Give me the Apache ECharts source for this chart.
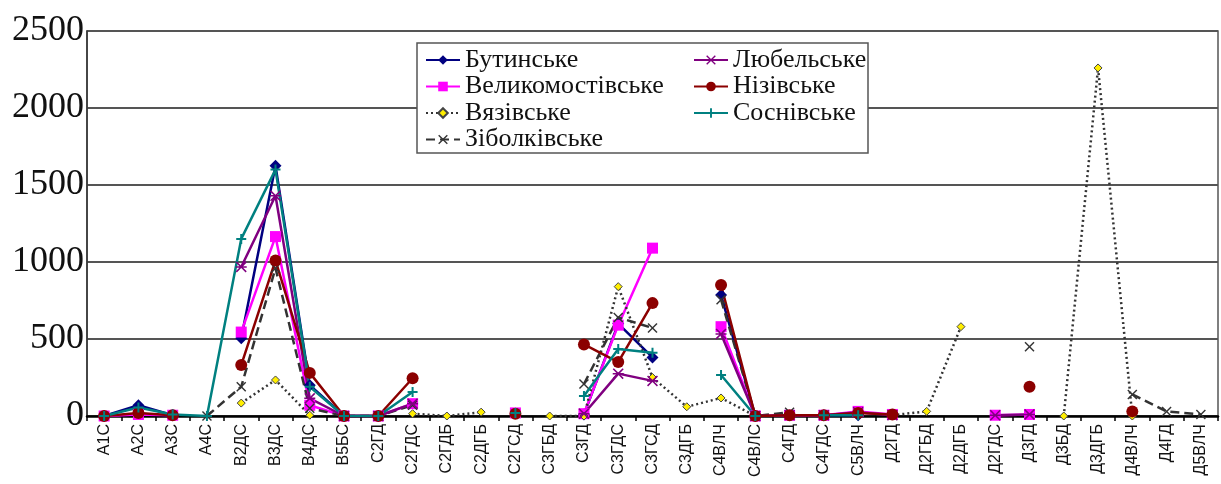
<!DOCTYPE html>
<html>
<head>
<meta charset="utf-8">
<script src="https://cdn.jsdelivr.net/npm/echarts@6/dist/echarts.min.js"></script>
<style>
  html, body { margin: 0; padding: 0; background: #fff; }
  #chart { width: 1221px; height: 484px; }
</style>
</head>
<body>
<div id="chart"></div>
<script>
// категорії по осі X
const categories = ['А1С', 'А2С', 'А3С', 'А4С', 'В2ДС', 'В3ДС', 'В4ДС', 'В5БС', 'С2ГД', 'С2ГДС',
  'С2ГДБ', 'С2ДГБ', 'С2ГСД', 'С3ГБД', 'С3ГД', 'С3ГДС', 'С3ГСД', 'С3ДГБ', 'С4ВЛЧ', 'С4ВЛС',
  'С4ГД', 'С4ГДС', 'С5ВЛЧ', 'Д2ГД', 'Д2ГБД', 'Д2ДГБ', 'Д2ГДС', 'Д3ГД', 'Д3БД', 'Д3ДГБ',
  'Д4ВЛЧ', 'Д4ГД', 'Д5ВЛЧ'];

const yTicks = [0, 500, 1000, 1500, 2000, 2500];

// значення по лісництвах (null - немає даних)
const butynske = [0, 70, 5, null, 505, 1625, 200, 0, 0, null, null, null, null, null, 10, 600, 380, null, 785, 0,
  null, 5, 5, null, null, null, null, null, null, null, null, null, null];
const velykomostivske = [0, 10, 5, null, 545, 1165, 70, 0, 0, 80, null, null, 20, null, 15, 590, 1090, null, 580, 0,
  5, 5, 30, 10, null, null, 5, 10, null, null, null, null, null];
const viazivske = [null, null, null, null, 84, 234, 5, null, null, 15, 0, 25, null, 0, 0, 840, 250, 60, 117, 0,
  null, null, null, 5, 30, 580, null, null, 0, 2260, 0, null, null];
const zibolkivske = [null, null, null, 0, 190, 960, 50, 0, 0, 70, null, null, null, null, 208, 640, 572, null, 755, 0,
  25, null, null, null, null, null, null, 450, null, null, 140, 30, 10];
const liubelske = [null, null, null, null, 968, 1430, 115, 0, 0, 80, null, null, null, null, 15, 275, 228, null, 533, 0,
  5, 5, 25, 5, null, null, 5, 10, null, null, null, null, null];
const nyzivske = [0, 20, 5, null, 331, 1010, 280, 0, 0, 245, null, null, 15, null, 465, 350, 733, null, 850, 0,
  5, 5, 20, 10, null, null, null, 190, null, null, 30, null, null];
const sosnivske = [0, 55, 10, 0, 1150, 1600, 190, 0, 0, 156, null, null, 20, null, 130, 435, 410, null, 266, 0,
  null, 5, 5, null, null, null, null, null, null, null, null, null, null];

const xMark = 'path://M0,1L1,0L5,4L9,0L10,1L6,5L10,9L9,10L5,6L1,10L0,9L4,5Z';
const plusMark = 'path://M4,0L6,0L6,4L10,4L10,6L6,6L6,10L4,10L4,6L0,6L0,4L4,4Z';
const starMark = 'path://M0,1L1,0L5,4L9,0L10,1L6,5L10,9L9,10L5,6L1,10L0,9L4,5Z M0,4.3L10,4.3L10,5.7L0,5.7Z';

function makeSeries(name, data, color, symbol, size, lineType, extra) {
  return Object.assign({
    name: name,
    type: 'line',
    data: data,
    symbol: symbol,
    symbolSize: size,
    showAllSymbol: true,
    connectNulls: false,
    animation: false,
    lineStyle: { color: color, width: 2.5, type: lineType },
    itemStyle: { color: color }
  }, extra || {});
}

const series = [
  makeSeries('Бутинське', butynske, '#000080', 'diamond', 12, 'solid'),
  makeSeries('Великомостівське', velykomostivske, '#ff00ff', 'rect', 11, 'solid'),
  makeSeries('Вязівське', viazivske, '#333333', 'diamond', 8, [2, 3],
    { itemStyle: { color: '#ffee00', borderColor: '#444', borderWidth: 1 } }),
  makeSeries('Зіболківське', zibolkivske, '#333333', xMark, 10, [9, 5]),
  makeSeries('Любельське', liubelske, '#800080', starMark, 11, 'solid'),
  makeSeries('Нізівське', nyzivske, '#8b0000', 'circle', 12, 'solid'),
  makeSeries('Соснівське', sosnivske, '#008080', plusMark, 10, 'solid')
];

const chart = echarts.init(document.getElementById('chart'));

const legendText = { fontFamily: 'Liberation Serif', fontSize: 26, color: '#111' };

chart.setOption({
  animation: false,
  backgroundColor: '#fff',
  grid: { left: 87, right: 3, top: 31, bottom: 68, show: true, borderColor: '#555', borderWidth: 1.5 },
  graphic: [{
    type: 'rect',
    z: 3,
    shape: { x: 417, y: 43, width: 451, height: 110 },
    style: { fill: '#fff', stroke: '#555', lineWidth: 1.5 }
  }],
  legend: [{
    data: ['Бутинське', 'Великомостівське', 'Вязівське', 'Зіболківське'],
    orient: 'vertical',
    left: 420,
    top: 42,
    itemGap: 0.5,
    itemWidth: 34,
    itemHeight: 12,
    textStyle: legendText,
    z: 5
  }, {
    data: ['Любельське', 'Нізівське', 'Соснівське'],
    orient: 'vertical',
    left: 688,
    top: 42,
    itemGap: 0.5,
    itemWidth: 34,
    itemHeight: 12,
    textStyle: legendText,
    z: 5
  }],
  xAxis: {
    type: 'category',
    data: categories,
    boundaryGap: true,
    axisLine: { lineStyle: { color: '#000', width: 2.5 } },
    axisTick: { show: true, length: 5, lineStyle: { color: '#000', width: 1.5 } },
    axisLabel: {
      rotate: 90,
      interval: 0,
      margin: 8,
      fontFamily: 'Liberation Sans',
      fontSize: 16,
      color: '#111'
    }
  },
  yAxis: {
    type: 'value',
    min: yTicks[0],
    max: yTicks[yTicks.length - 1],
    interval: 500,
    axisLine: { show: true, lineStyle: { color: '#333', width: 1.5 } },
    axisTick: { show: false },
    splitLine: { lineStyle: { color: '#555', width: 2 } },
    axisLabel: {
      margin: 3,
      fontFamily: 'Liberation Serif',
      fontSize: 36,
      color: '#111',
      formatter: function (v) { return String(v); }
    }
  },
  series: series
});
</script>
</body>
</html>
